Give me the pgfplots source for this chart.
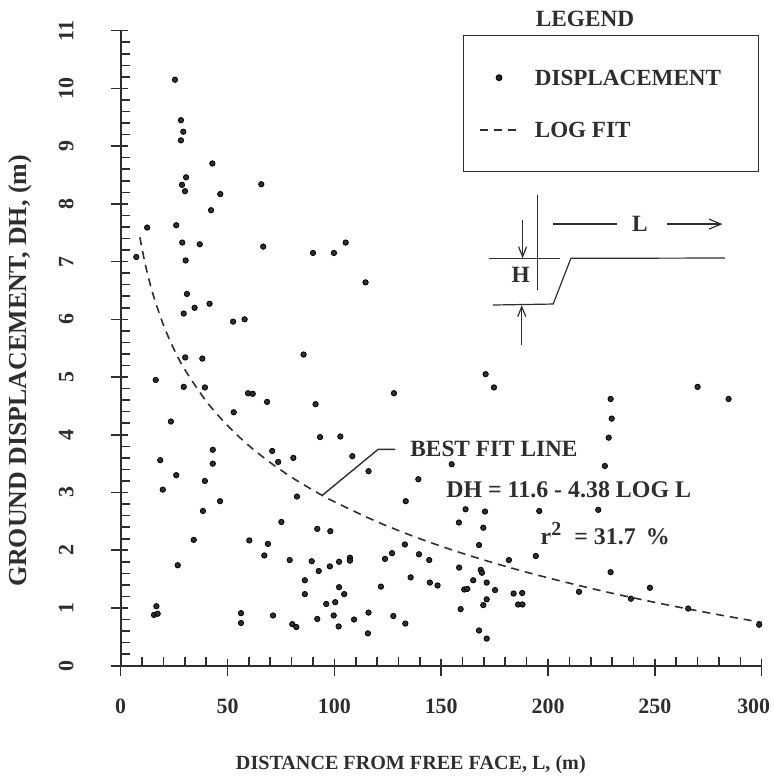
\documentclass[border=0pt]{standalone}
\usepackage{fontspec}
\setmainfont{Liberation Serif}
\usepackage{pgfplots}
\pgfplotsset{compat=1.18}
\usetikzlibrary{arrows.meta}
\definecolor{ink}{gray}{0.18}
\pgfplotsset{
  dotlegend/.style={legend image code/.code={\draw[mark repeat=2,mark phase=2,##1] plot coordinates {(0bp,0bp) (9.5bp,0bp) (19bp,0bp)};}},
  dashlegend/.style={legend image code/.code={\draw[##1] (0bp,0bp) -- (19bp,0bp);}},
}
\begin{document}
\begin{tikzpicture}
\useasboundingbox (-60.35bp,-56.65bp) rectangle (326.65bp,332.85bp);
\begin{axis}[
  at={(0,0)}, anchor=south west,
  scale only axis, width=320.5bp, height=317.5bp,
  xmin=0, xmax=300, ymin=0, ymax=11,
  axis x line=bottom, axis y line=left,
  axis line style={-, line width=0.9bp, ink},
  xtick={0,50,...,300}, ytick={0,1,...,11},
  xticklabels={0,50,100,150,200,250,{\hspace*{-8bp}300}},
  minor x tick num=4, minor y tick num=4,
  tick align=inside,
  major tick length=8.5bp, minor tick length=4.5bp,
  tick style={line width=0.8bp, ink},
  every major x tick/.append style={yshift=-5bp},
  every major y tick/.append style={xshift=-5bp},
  /pgf/number format/assume math mode=true,
  ticklabel style={font=\fontsize{11}{12}\selectfont\bfseries, text=ink},
  xticklabel style={anchor=north, inner sep=0pt, yshift=-16.5bp},
  yticklabel style={anchor=south, inner sep=0pt, xshift=-23.4bp, rotate=90},
  clip=false,
  legend cell align=left,
  legend style={at={(axis description cs:0.5333,0.9932)}, anchor=north west,
    draw=ink, line width=0.7bp, inner xsep=8bp, inner ysep=17bp, row sep=18bp,
    /tikz/column sep=8bp, text=ink,
    font=\fontsize{11.6}{12}\selectfont\bfseries,
    nodes={inner sep=0pt, text height=8bp, text depth=0bp}},
]
\addplot[only marks, mark=*, mark size=1.35bp, mark options={fill=ink, draw=none}, dotlegend]
table {
x y
25.4 10.15
28.2 9.45
29.3 9.25
28.2 9.10
42.9 8.70
30.6 8.46
28.7 8.33
30.1 8.22
46.6 8.17
42.3 7.89
65.8 8.34
12.4 7.59
26.0 7.63
28.8 7.33
37.0 7.30
66.7 7.26
90.0 7.15
99.8 7.15
105.3 7.33
114.6 6.64
7.3 7.08
30.4 7.02
31.0 6.44
41.6 6.27
34.6 6.20
29.5 6.10
52.6 5.96
58.0 6.00
85.6 5.39
30.2 5.34
38.2 5.32
16.4 4.95
29.5 4.83
39.4 4.82
59.6 4.72
61.8 4.71
68.5 4.57
91.2 4.53
52.9 4.39
23.5 4.23
93.3 3.96
102.8 3.97
43.1 3.74
70.9 3.72
18.5 3.56
43.1 3.50
73.7 3.53
80.8 3.60
108.4 3.63
116.0 3.37
26.0 3.30
19.7 3.05
39.4 3.20
82.5 2.93
46.5 2.85
38.5 2.68
75.2 2.49
92.0 2.37
98.1 2.33
34.2 2.18
60.2 2.17
68.9 2.11
67.2 1.91
26.7 1.74
79.1 1.83
89.4 1.81
107.3 1.87
107.3 1.82
102.2 1.80
97.9 1.72
92.7 1.64
86.2 1.48
102.2 1.36
104.6 1.24
86.2 1.24
100.4 1.10
96.2 1.07
16.7 1.03
15.6 0.88
17.3 0.90
56.3 0.91
56.3 0.74
71.3 0.87
99.7 0.87
92.0 0.81
109.2 0.80
116.0 0.92
80.3 0.72
82.2 0.67
102.0 0.68
115.7 0.56
127.9 4.72
170.8 5.05
174.7 4.82
154.9 3.49
139.3 3.23
133.4 2.85
161.4 2.71
170.5 2.67
195.9 2.68
158.3 2.48
169.7 2.39
133.0 2.10
127.0 1.95
123.7 1.85
139.6 1.93
144.4 1.83
167.7 2.09
181.7 1.83
194.3 1.90
158.4 1.70
168.5 1.66
169.1 1.61
135.7 1.53
144.7 1.44
148.3 1.39
165.0 1.48
171.3 1.44
175.2 1.31
160.8 1.32
162.2 1.33
183.9 1.25
187.9 1.26
121.8 1.37
171.3 1.15
169.7 1.05
186.0 1.06
188.0 1.06
159.1 0.98
214.5 1.28
127.6 0.86
133.2 0.73
167.7 0.61
171.3 0.47
270.0 4.83
284.5 4.62
229.3 4.62
229.8 4.28
228.4 3.95
226.6 3.46
223.5 2.70
229.3 1.62
238.8 1.16
247.7 1.35
265.6 0.99
298.8 0.71
};
\addlegendentry{DISPLACEMENT\hspace*{10.6bp}}
\addplot[ink, line width=0.8bp, dash pattern=on 4bp off 3bp, smooth, dashlegend]
table {
x y
9 7.420
10 7.220
12 6.873
15 6.449
20 5.902
25 5.477
30 5.130
40 4.583
50 4.159
60 3.812
70 3.519
80 3.264
90 3.041
100 2.840
120 2.493
140 2.200
160 1.946
180 1.722
200 1.522
225 1.297
250 1.097
275 0.916
300 0.750
};
\addlegendentry{LOG FIT}

\node[font=\fontsize{10.1}{12}\selectfont\bfseries, text=ink] at (axis cs:135.8,-1.72) {DISTANCE FROM FREE FACE, L, (m)};
\node[rotate=90, font=\fontsize{13}{14}\selectfont\bfseries, text=ink] at (axis cs:-47.1,5.105) {GROUND DISPLACEMENT, DH, (m)};

\begin{scope}[font=\fontsize{11.7}{12}\selectfont\bfseries, text=ink, draw=ink]
\node[anchor=base] at (axis cs:217.3,11.079) {LEGEND};
\node[anchor=base west, inner sep=0pt] at (axis cs:135.4,3.631) {BEST FIT LINE};
\node[anchor=base west, inner sep=0pt, font=\fontsize{12}{12}\selectfont\bfseries] at (axis cs:152.2,2.908) {DH = 11.6 - 4.38 LOG L};
\node[anchor=base west, inner sep=0pt, font=\fontsize{12}{12}\selectfont\bfseries] at (axis cs:196.4,2.099) {r\textsuperscript{\fontsize{10}{10}\selectfont 2}\hspace{6bp}=\hspace{3bp}31.7\hspace{5bp}\%};
\draw[line width=0.7bp] (axis cs:94.5,2.956) -- (axis cs:120.5,3.748) -- (axis cs:128.4,3.748);
% inset sketch
\draw[line width=0.6bp] (axis cs:195.1,8.153) -- (axis cs:195.1,6.507);
\draw[line width=0.6bp] (axis cs:202.2,7.65) -- (axis cs:232.1,7.65);
\node at (axis cs:243.0,7.65) {L};
\draw[line width=0.6bp, -{Straight Barb[length=6bp,width=5bp]}] (axis cs:255.5,7.65) -- (axis cs:281.7,7.65);
\draw[line width=0.6bp] (axis cs:172.3,7.057) -- (axis cs:205.6,7.057);
\draw[line width=0.6bp] (axis cs:174.2,6.248) -- (axis cs:202.4,6.265) -- (axis cs:210.7,7.057) -- (axis cs:282.8,7.062);
\node at (axis cs:187.2,6.768) {H};
\draw[line width=0.6bp, -{Straight Barb[length=5bp,width=4bp]}] (axis cs:188.1,7.72) -- (axis cs:188.1,7.057);
\draw[line width=0.6bp, -{Straight Barb[length=5bp,width=4bp]}] (axis cs:187.7,5.557) -- (axis cs:187.7,6.248);
\end{scope}
\end{axis}
\end{tikzpicture}
\end{document}
